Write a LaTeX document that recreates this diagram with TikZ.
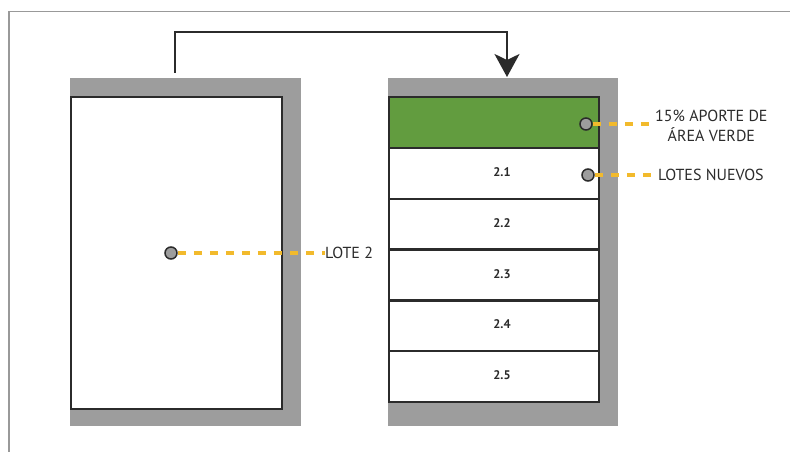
\documentclass[tikz,border=0pt]{standalone}
\usepackage{fontspec}
\setmainfont{PT Sans}
\usetikzlibrary{arrows.meta}
\definecolor{shade}{HTML}{9D9D9D}
\definecolor{dark}{HTML}{2B2B2B}
\definecolor{leaf}{HTML}{629C3F}
\definecolor{dash}{HTML}{F2BA2C}
\tikzset{
  shadow/.style={fill=shade, draw=none},
  lot/.style={draw=dark, line width=2.4pt, fill=white, minimum width=210pt, minimum height=50.8pt, anchor=north west, inner sep=0pt},
  pin/.style={circle, draw=dark, fill=shade, line width=1.5pt, minimum size=12pt, inner sep=0pt},
  leader/.style={draw=dash, line width=3.5pt, dash pattern=on 8pt off 8pt},
  lbl/.style={font=\fontsize{16}{20}\selectfont, text=dark, inner sep=0pt, align=center},
  num/.style={font=\bfseries\fontsize{12.5}{14}\selectfont, text=dark, inner sep=0pt},
  flow/.style={draw=dark, line width=2.2pt, -{Stealth[length=23pt, width=25pt, inset=6pt]}}
}
\begin{document}
\begin{tikzpicture}[x=1pt, y=-1pt]
\useasboundingbox (0,0) rectangle (790,452);
% frame
\draw[gray!80, line width=1.2pt] (9,452) -- (9,11.5) -- (790,11.5);
% left lot
\fill[shadow] (70,78) rectangle (301,426);
\node[lot, minimum width=211pt, minimum height=312pt] (lote) at (70,96) {};
% right lots
\fill[shadow] (388,78) rectangle (618,426);
\node[lot, fill=leaf] (r0) at (388,96) {};
\foreach \i/\t in {1/2.1,2/2.2,3/2.3,4/2.4,5/2.5}{
  \node[lot] (r\i) at (388,{96+50.8*\i}) {};
  \node[num] (n\i) at (502,{96+50.8*\i+25.4}) {\t};
}
% arrow
\coordinate (a0) at (175,73);
\coordinate (a1) at (175,32);
\coordinate (a2) at (507,32);
\coordinate (a3) at (507,77);
\draw[flow] (a0) -- (a1) -- (a2) -- (a3);
% pins and labels
\node[pin] (p1) at (171,253) {};
\node[lbl, anchor=west] (t1) at (325,253) {LOTE 2};
\draw[leader] (p1.east) -- (t1.west);
\node[pin] (p2) at (586,124) {};
\node[lbl, anchor=west] (t2) at (655,126) {15\% APORTE DE\\ÁREA VERDE};
\draw[leader] (p2.east) -- ([xshift=-3pt]t2.west |- p2);
\node[pin] (p3) at (588,175) {};
\node[lbl, anchor=west] (t3) at (658,175) {LOTES NUEVOS};
\draw[leader] (p3.east) -- ([xshift=-3pt]t3.west);
\end{tikzpicture}
\end{document}
